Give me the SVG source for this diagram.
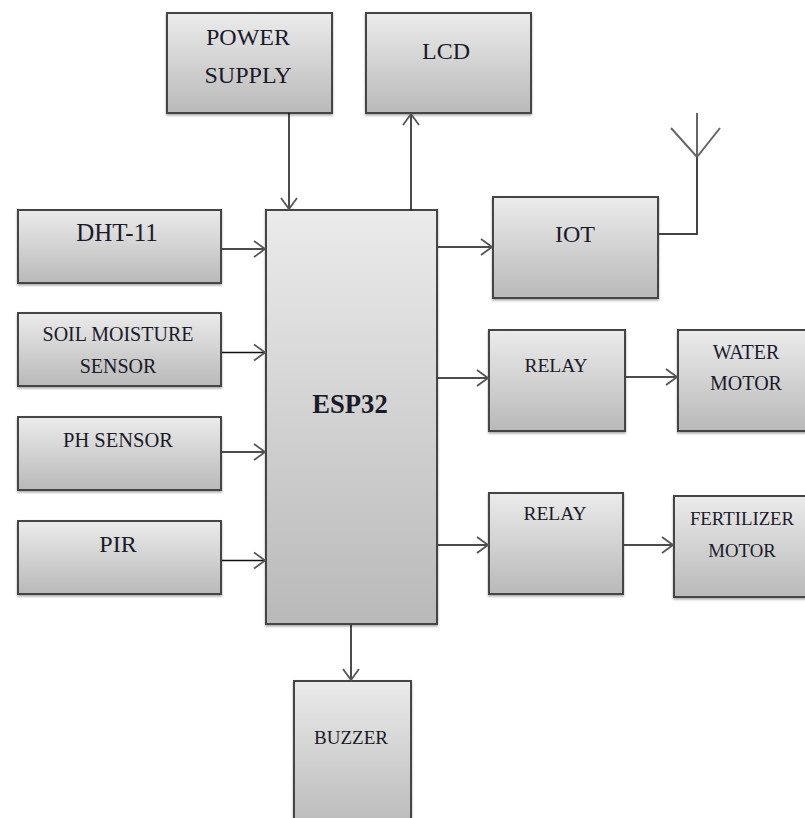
<svg xmlns="http://www.w3.org/2000/svg" width="805" height="818" viewBox="0 0 805 818">
<style>
.b{fill:url(#g);stroke:#444;stroke-width:2;filter:url(#s)}
text{font-family:"Liberation Serif",serif;fill:#1a1a2a;text-anchor:middle;font-size:20px}
.c{fill:none;stroke:#111;stroke-width:1.5}
.a{fill:none;stroke:#555;stroke-width:1.8}
.e{fill:none;stroke:#444;stroke-width:2}
</style>
<defs>
<linearGradient id="g" x1="0" y1="0" x2="0" y2="1"><stop offset="0" stop-color="#ebebeb"/><stop offset="1" stop-color="#b9b9b9"/></linearGradient>
<filter id="s" x="-5%" y="-5%" width="110%" height="110%"><feDropShadow dx="0" dy="1.5" stdDeviation="1.2" flood-color="#000" flood-opacity=".35"/></filter>
<marker id="m" markerUnits="userSpaceOnUse" markerWidth="16" markerHeight="20" refX="12" refY="10" orient="auto"><path d="M1 2L12 10L1 18" class="a"/></marker>
</defs>
<g id="power-supply"><rect class="b" x="167" y="13" width="165" height="100"/><text x="248" y="45" style="font-size:24px">POWER</text><text x="248" y="83" style="font-size:24px">SUPPLY</text></g>
<g id="lcd"><rect class="b" x="366" y="13" width="165" height="100"/><text x="446" y="59" style="font-size:24px">LCD</text></g>
<g id="dht-11"><rect class="b" x="18" y="210" width="203" height="73"/><text x="117" y="241" style="font-size:25px">DHT-11</text></g>
<g id="soil-moisture-sensor"><rect class="b" x="18" y="313" width="203" height="73"/><text x="118" y="341">SOIL MOISTURE</text><text x="118" y="373">SENSOR</text></g>
<g id="ph-sensor"><rect class="b" x="18" y="417" width="203" height="73"/><text x="118" y="447" style="font-size:20.5px">PH SENSOR</text></g>
<g id="pir"><rect class="b" x="18" y="521" width="203" height="73"/><text x="118" y="552" style="font-size:24px">PIR</text></g>
<g id="esp32"><rect class="b" x="266" y="210" width="171" height="414"/><text x="350" y="413" style="font-size:26.6px;font-weight:bold">ESP32</text></g>
<g id="iot"><rect class="b" x="493" y="197" width="165" height="101"/><text x="575" y="242" style="font-size:24px">IOT</text></g>
<g id="relay-1"><rect class="b" x="489" y="330" width="136" height="101"/><text x="556" y="372" style="font-size:19.5px">RELAY</text></g>
<g id="water-motor"><rect class="b" x="678" y="330" width="130" height="101"/><text x="746" y="359">WATER</text><text x="746" y="390">MOTOR</text></g>
<g id="relay-2"><rect class="b" x="489" y="493" width="134" height="101"/><text x="555" y="520" style="font-size:19.5px">RELAY</text></g>
<g id="fertilizer-motor"><rect class="b" x="674" y="496" width="134" height="101"/><text x="742" y="525" style="font-size:18.8px">FERTILIZER</text><text x="742" y="557" style="font-size:18.8px">MOTOR</text></g>
<g id="buzzer"><rect class="b" x="294" y="681" width="117" height="150"/><text x="351" y="744" style="font-size:19px">BUZZER</text></g>
<g id="antenna"><path class="e" d="M697 113V157M671 128L697 157L720 128" style="stroke:#666"/></g>
<g id="connectors">
<path class="c" marker-end="url(#m)" d="M289 113V209"/>
<path class="c" marker-end="url(#m)" d="M411 210V114"/>
<path class="c" marker-end="url(#m)" d="M222 249H265"/>
<path class="c" marker-end="url(#m)" d="M222 352.500H265"/>
<path class="c" marker-end="url(#m)" d="M222 452H265"/>
<path class="c" marker-end="url(#m)" d="M222 560.500H265"/>
<path class="c" marker-end="url(#m)" d="M438 247H492"/>
<path class="c" marker-end="url(#m)" d="M438 378H488"/>
<path class="c" marker-end="url(#m)" d="M438 545H488"/>
<path class="c" marker-end="url(#m)" d="M626 377H677"/>
<path class="c" marker-end="url(#m)" d="M624 545H673"/>
<path class="c" marker-end="url(#m)" d="M351 625V680"/>
<path class="e" d="M659 234H697V157"/>
</g>
</svg>
